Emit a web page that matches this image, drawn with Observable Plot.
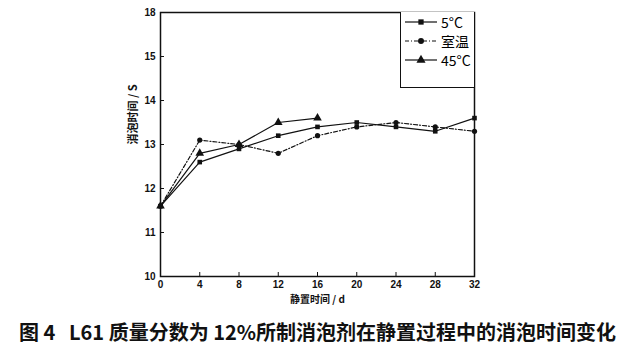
<!DOCTYPE html>
<html><head><meta charset="utf-8">
<script src="https://cdn.jsdelivr.net/npm/d3@7"></script>
<script src="https://cdn.jsdelivr.net/npm/@observablehq/plot@0.6"></script>
<style>
body{margin:0;background:#fff;font-family:"Liberation Sans",Arial,sans-serif;}
#wrap{position:relative;width:635px;}
#chart svg{display:block;}
#cap{width:635px;height:30px;line-height:30px;margin-top:2px;text-align:center;font-weight:bold;font-size:20px;font-family:"Noto Sans CJK SC","Liberation Sans",sans-serif;color:#111;white-space:pre;}
#legend{position:absolute;left:400px;top:12px;width:73px;height:75px;border-left:1.5px solid #111;border-bottom:1.5px solid #111;background:#fff;font-size:14px;font-family:"Noto Sans CJK SC","Liberation Sans",sans-serif;}
.row{display:flex;align-items:center;height:18px;margin-top:1px}
</style></head><body>
<div id="wrap"><div id="chart"></div><div id="legend"></div><div id="cap"></div></div>
<script>
const days = [0, 4, 8, 12, 16, 20, 24, 28, 32];
const seriesNames = ["5°C", "室温", "45°C"];
const v5 = [11.6, 12.6, 12.9, 13.2, 13.4, 13.5, 13.4, 13.3, 13.6];
const vRoom = [11.6, 13.1, 13.0, 12.8, 13.2, 13.4, 13.5, 13.4, 13.3];
const v45 = [11.6, 12.8, 13.0, 13.5, 13.6];
const yTicks = [10, 11, 12, 13, 14, 15, 16];
const yTickLabels = ["10", "11", "12", "13", "14", "15", "18"];
const xLabel = "静置时间 / d";
const yLabel = "消泡时间 / S";
const caption = "图 4   L61 质量分数为 12%所制消泡剂在静置过程中的消泡时间变化";

const symbols = ["square", "circle", "triangle"];
const dashes = [null, "4,2,1,2", null];
const vals = [v5, vRoom, v45];
const data = [];
vals.forEach((arr, i) => arr.forEach((v, j) => data.push({s: seriesNames[i], x: days[j], y: v})));

const lines = seriesNames.map((n, i) => Plot.line(data.filter(d => d.s === n), {x: "x", y: "y", stroke: "#111", strokeWidth: 1.2, strokeDasharray: dashes[i]}));
const dots = seriesNames.map((n, i) => Plot.dot(data.filter(d => d.s === n), {x: "x", y: "y", symbol: () => symbols[i], fill: "#111", r: i === 2 ? 3.2 : 2.6}));

const chart = Plot.plot({
  width: 635, height: 315,
  marginLeft: 160, marginRight: 161, marginTop: 12, marginBottom: 39,
  style: {fontFamily: "Liberation Sans, Arial, sans-serif", fontSize: "10px", fontWeight: "bold", color: "#111"},
  x: {domain: [0, 32]},
  y: {domain: [10, 16]},
  symbol: {type: "identity"},
  marks: [
    Plot.frame({stroke: "#111", strokeWidth: 1.5}),
    Plot.axisX({ticks: days, tickSize: -4, tickPadding: 8, label: null}),
    Plot.axisY({ticks: yTicks, tickSize: -4, tickPadding: 9, tickFormat: (d) => yTickLabels[yTicks.indexOf(d)], label: null}),
    Plot.text([xLabel], {frameAnchor: "bottom", dy: 26, text: d => d, fontSize: 10, fontWeight: "bold", fontFamily: "Noto Sans CJK SC"}),
    Plot.text([yLabel], {frameAnchor: "left", dx: -27, rotate: -90, text: d => d, fontSize: 11, fontWeight: "bold", fontFamily: "Noto Sans CJK SC"}),
    ...lines, ...dots
  ]
});
document.getElementById("chart").appendChild(chart);
document.getElementById("cap").textContent = caption;

const leg = document.getElementById("legend");
seriesNames.forEach((n, i) => {
  const row = document.createElement("div"); row.className = "row";
  const svg = d3.create("svg").attr("width", 40).attr("height", 14);
  svg.append("line").attr("x1", 4).attr("x2", 36).attr("y1", 7).attr("y2", 7).attr("stroke", "#111").attr("stroke-width", 1.2).attr("stroke-dasharray", dashes[i]);
  svg.append("path").attr("transform", "translate(20,7)").attr("d", d3.symbol(i === 0 ? d3.symbolSquare : i === 1 ? d3.symbolCircle : d3.symbolTriangle, i === 2 ? 36 : 28)()).attr("fill", "#111");
  row.appendChild(svg.node());
  const t = document.createElement("span"); t.textContent = n; row.appendChild(t);
  leg.appendChild(row);
});
</script></body></html>
